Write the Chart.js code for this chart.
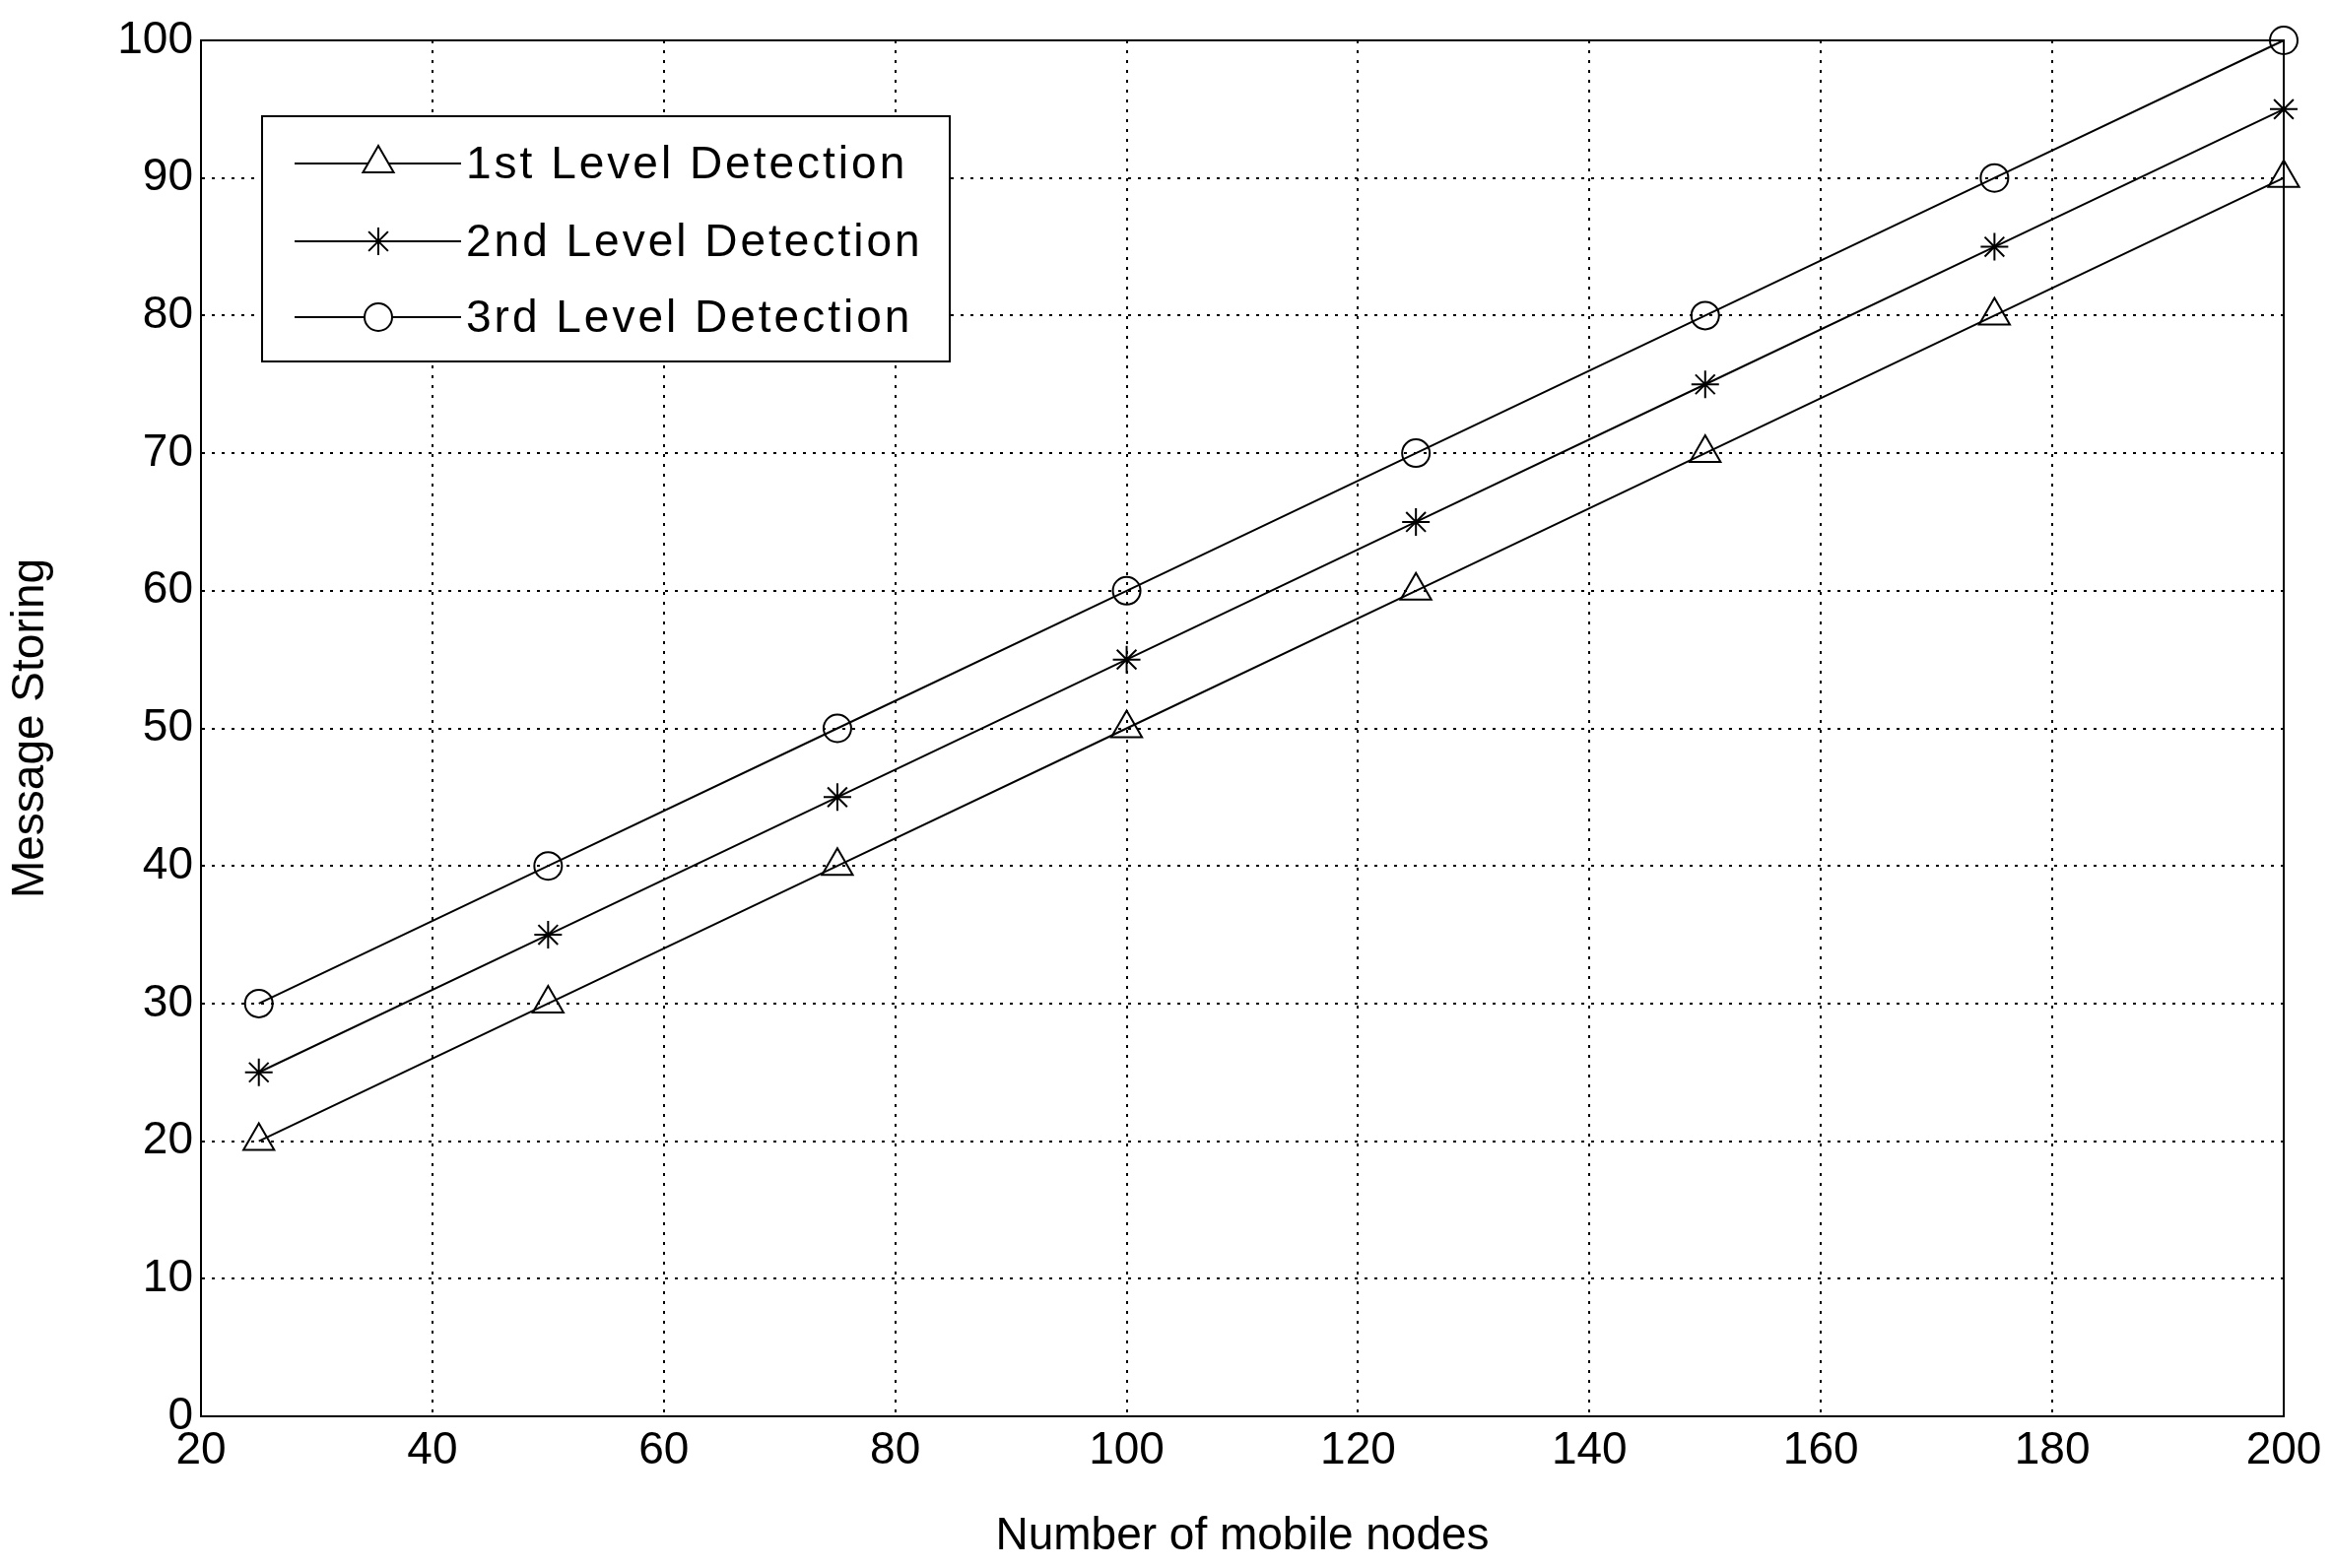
<!DOCTYPE html>
<html><head><meta charset="utf-8">
<script src="https://cdn.jsdelivr.net/npm/chart.js@4/dist/chart.umd.min.js"></script>
<style>html,body{margin:0;padding:0;background:#fff}#wrap{width:2368px;height:1592px}</style>
</head><body><div id="wrap"><canvas id="c" width="2368" height="1592"></canvas></div>
<script>
const xValues = [25, 50, 75, 100, 125, 150, 175, 200];
const level1 = [20, 30, 40, 50, 60, 70, 80, 90];
const level2 = [25, 35, 45, 55, 65, 75, 85, 95];
const level3 = [30, 40, 50, 60, 70, 80, 90, 100];
const seriesNames = ['1st Level Detection', '2nd Level Detection', '3rd Level Detection'];
const xTitle = 'Number of mobile nodes';
const yTitle = 'Message Storing';

const FONT = '"Liberation Sans", Arial, sans-serif';
const styles = ['triangle', 'star', 'circle'];
const mk = (name, vals, ps) => ({
  label: name, data: xValues.map((x, i) => ({x, y: vals[i]})),
  borderColor: '#000', backgroundColor: 'rgba(0,0,0,0)', borderWidth: 2,
  pointStyle: ps, pointRadius: ps === 'triangle' ? 18 : 14, pointBorderColor: '#000',
  pointBorderWidth: 2, pointBackgroundColor: 'rgba(0,0,0,0)', tension: 0, clip: false
});

const boxPlugin = {
  id: 'box',
  afterDraw(chart) {
    const {ctx, chartArea: a} = chart;
    ctx.save();
    ctx.strokeStyle = '#000'; ctx.lineWidth = 2;
    ctx.strokeRect(a.left, a.top, a.right - a.left, a.bottom - a.top);
    const lx = 266, ly = 118, lw = 698, lh = 249;
    ctx.fillStyle = '#fff'; ctx.fillRect(lx, ly, lw, lh);
    ctx.strokeRect(lx, ly, lw, lh);
    const rows = [166, 245, 322];
    chart.data.datasets.forEach((ds, i) => {
      const y = rows[i];
      ctx.strokeStyle = '#000'; ctx.lineWidth = 2;
      ctx.beginPath(); ctx.moveTo(299, y); ctx.lineTo(468, y); ctx.stroke();
      ctx.fillStyle = '#fff';
      Chart.helpers.drawPoint(ctx, {pointStyle: ds.pointStyle, radius: ds.pointRadius, borderWidth: 2}, 384, y);
      ctx.font = '46px ' + FONT; ctx.fillStyle = '#000'; ctx.textBaseline = 'middle';
      ctx.letterSpacing = '3px';
      ctx.fillText(ds.label, 473, y + 2);
      ctx.letterSpacing = '0px';
    });
    ctx.restore();
  }
};

new Chart(document.getElementById('c'), {
  type: 'line',
  data: { datasets: [mk(seriesNames[0], level1, styles[0]), mk(seriesNames[1], level2, styles[1]), mk(seriesNames[2], level3, styles[2])] },
  options: {
    responsive: false, animation: false, devicePixelRatio: 1,
    layout: { padding: { top: 41, right: 50, left: 0, bottom: 0 } },
    plugins: { legend: { display: false }, tooltip: { enabled: false } },
    scales: {
      x: {
        type: 'linear', min: 20, max: 200,
        ticks: { stepSize: 20, color: '#000', font: { family: FONT, size: 46 }, padding: 8 },
        grid: { color: '#000', lineWidth: 2, drawTicks: false },
        border: { display: true, color: '#000', width: 2, dash: [3, 7] },
        title: { display: true, text: xTitle, color: '#000', font: { family: FONT, size: 46 }, padding: { top: 0 } },
        afterFit(s) { s.height = 154; }
      },
      y: {
        min: 0, max: 100,
        ticks: { stepSize: 10, color: '#000', font: { family: FONT, size: 46 }, padding: 8 },
        grid: { color: '#000', lineWidth: 2, drawTicks: false },
        border: { display: true, color: '#000', width: 2, dash: [3, 7] },
        title: { display: true, text: yTitle, color: '#000', font: { family: FONT, size: 46 }, padding: { bottom: 4 } },
        afterFit(s) { s.width = 204; }
      }
    }
  },
  plugins: [boxPlugin]
});
</script></body></html>
